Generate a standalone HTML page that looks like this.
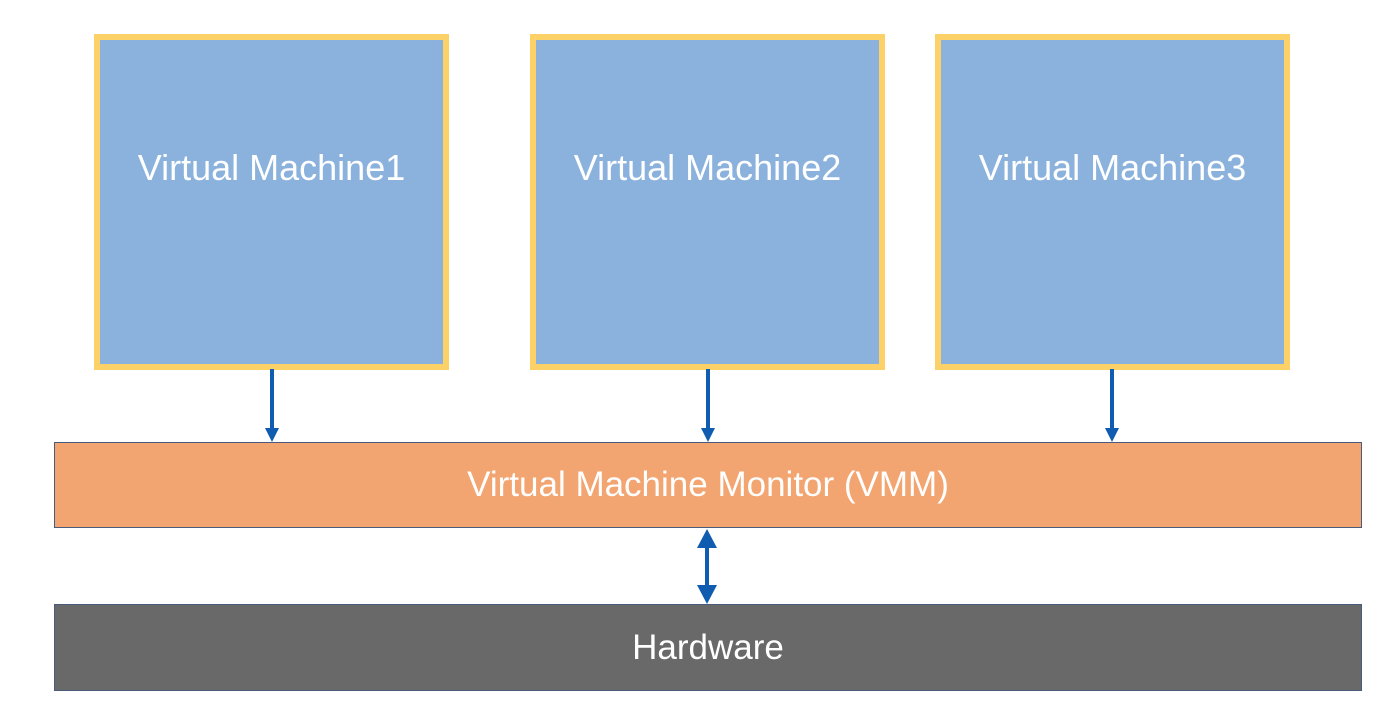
<!DOCTYPE html>
<html><head><style>
body{margin:0;width:1396px;height:714px;background:#fff;position:relative;overflow:hidden;font-family:"Liberation Sans",sans-serif;}
.vm{position:absolute;top:34px;width:343px;height:324px;background:#8ab2dd;border:6px solid #fcd167;color:#fff;font-size:36px;display:flex;align-items:center;justify-content:center;box-sizing:content-box;padding-bottom:0;}
.vm span{position:relative;top:-34px;}
.bar{position:absolute;left:54px;width:1306px;border:1.5px solid #4a5a7a;color:#fff;font-size:35px;display:flex;align-items:center;justify-content:center;}
</style></head><body>
<div class="vm" style="left:94px"><span>Virtual Machine1</span></div>
<div class="vm" style="left:530px"><span>Virtual Machine2</span></div>
<div class="vm" style="left:935px"><span>Virtual Machine3</span></div>
<div class="bar" style="top:442px;height:84px;background:#f3a571;">Virtual Machine Monitor (VMM)</div>
<div class="bar" style="top:604px;height:85px;background:#696969;">Hardware</div>
<svg width="1396" height="714" style="position:absolute;left:0;top:0">
<g stroke="#0f5cb0" stroke-width="4" fill="#0f5cb0">
<line x1="272" y1="369" x2="272" y2="430"/><polygon points="265,428 279,428 272,442" stroke="none"/>
<line x1="708" y1="369" x2="708" y2="430"/><polygon points="701,428 715,428 708,442" stroke="none"/>
<line x1="1112" y1="369" x2="1112" y2="430"/><polygon points="1105,428 1119,428 1112,442" stroke="none"/>
<line x1="707" y1="545" x2="707" y2="588"/>
<polygon points="697,548 717,548 707,529" stroke="none"/>
<polygon points="697,585 717,585 707,604" stroke="none"/>
</g></svg>
</body></html>
